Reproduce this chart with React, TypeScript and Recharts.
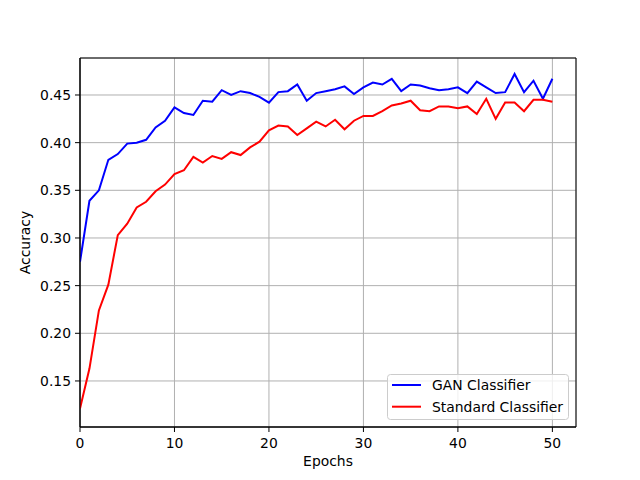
import React from 'react';
import {
    LineChart,
    Line,
    XAxis,
    YAxis,
    CartesianGrid,
    Legend,
    ReferenceArea,
    Label,
} from 'recharts';

const epochs = [
    0, 1, 2, 3, 4, 5, 6, 7, 8, 9, 10, 11, 12, 13, 14, 15, 16, 17, 18, 19, 20, 21, 22, 23, 24, 25,
    26, 27, 28, 29, 30, 31, 32, 33, 34, 35, 36, 37, 38, 39, 40, 41, 42, 43, 44, 45, 46, 47, 48, 49, 50,
];

const ganAcc = [
    0.275, 0.339, 0.35, 0.382, 0.388, 0.399, 0.4, 0.403, 0.416, 0.423, 0.437, 0.431, 0.429, 0.444,
    0.443, 0.455, 0.45, 0.454, 0.452, 0.448, 0.442, 0.453, 0.454, 0.461, 0.444, 0.452, 0.454, 0.456,
    0.459, 0.451, 0.458, 0.463, 0.461, 0.467, 0.454, 0.461, 0.46, 0.457, 0.455, 0.456, 0.458, 0.452,
    0.464, 0.458, 0.452, 0.453, 0.472, 0.453, 0.465, 0.446, 0.467,
];

const stdAcc = [
    0.121, 0.163, 0.224, 0.251, 0.303, 0.315, 0.332, 0.338, 0.349, 0.356, 0.367, 0.371, 0.385, 0.379,
    0.386, 0.383, 0.39, 0.387, 0.395, 0.401, 0.413, 0.418, 0.417, 0.408, 0.415, 0.422, 0.417, 0.424,
    0.414, 0.423, 0.428, 0.428, 0.433, 0.439, 0.441, 0.444, 0.434, 0.433, 0.438, 0.438, 0.436, 0.438,
    0.43, 0.446, 0.425, 0.442, 0.442, 0.433, 0.445, 0.445, 0.443,
];

const xTicks = [0, 10, 20, 30, 40, 50];
const yTicks = [0.15, 0.2, 0.25, 0.3, 0.35, 0.4, 0.45];

const X_DOMAIN: [number, number] = [0, 52.5];
const Y_DOMAIN: [number, number] = [0.1017, 0.4888];

const FONT = '"DejaVu Sans", sans-serif';
const FS = 13.9;

const data = epochs.map((e, i) => ({ epoch: e, gan: ganAcc[i], std: stdAcc[i] }));

// matplotlib-ish legend box, drawn as a small svg
const LegendBox = (props: any) => {
    const items = props.payload || [];
    return (
        <svg width={182} height={46} style={{ display: 'block', fontFamily: FONT }}>
            <rect x={0.5} y={0.5} width={181} height={45} rx={3} fill="#fff" fillOpacity={0.8} stroke="#cccccc" />
            {items.map((it: any, i: number) => {
                const cy = 11 + i * 21.7;
                return (
                    <g key={it.value}>
                        <line x1={5} x2={34} y1={cy} y2={cy} stroke={it.color} strokeWidth={2} />
                        <text x={45} y={cy + 5} fontSize={FS} fill="#000">
                            {it.value}
                        </text>
                    </g>
                );
            })}
        </svg>
    );
};

export default function App() {
    return (
        <div style={{ position: 'absolute', left: 0, top: 0, width: 640, height: 480, background: '#fff' }}>
            <LineChart
                width={640}
                height={480}
                data={data}
                margin={{ top: 58, right: 64, bottom: 0, left: 0 }}
                style={{ fontFamily: FONT }}
            >
                <CartesianGrid stroke="#b0b0b0" strokeWidth={1} />
                <XAxis
                    dataKey="epoch"
                    type="number"
                    domain={X_DOMAIN}
                    ticks={xTicks}
                    allowDataOverflow
                    height={53}
                    tickSize={5}
                    tickMargin={6}
                    stroke="#000"
                    tick={{ fill: '#000', fontSize: FS }}
                >
                    <Label
                        content={() => (
                            <text x={328} y={466} textAnchor="middle" fontSize={FS} fill="#000" fontFamily={FONT}>
                                Epochs
                            </text>
                        )}
                    />
                </XAxis>
                <YAxis
                    type="number"
                    domain={Y_DOMAIN}
                    ticks={yTicks}
                    allowDataOverflow
                    width={80}
                    tickSize={5}
                    tickMargin={4}
                    stroke="#000"
                    tick={{ fill: '#000', fontSize: FS }}
                    tickFormatter={(v: number) => v.toFixed(2)}
                >
                    <Label
                        content={() => (
                            <text
                                x={30}
                                y={242.5}
                                transform="rotate(-90, 30, 242.5)"
                                textAnchor="middle"
                                fontSize={FS}
                                fill="#000"
                                fontFamily={FONT}
                            >
                                Accuracy
                            </text>
                        )}
                    />
                </YAxis>
                <ReferenceArea
                    x1={X_DOMAIN[0]}
                    x2={X_DOMAIN[1]}
                    y1={Y_DOMAIN[0]}
                    y2={Y_DOMAIN[1]}
                    fill="none"
                    stroke="#000"
                    strokeWidth={1}
                />
                <Line
                    type="linear"
                    dataKey="gan"
                    name="GAN Classifier"
                    stroke="#0000ff"
                    strokeWidth={2}
                    dot={false}
                    isAnimationActive={false}
                />
                <Line
                    type="linear"
                    dataKey="std"
                    name="Standard Classifier"
                    stroke="#ff0000"
                    strokeWidth={2}
                    dot={false}
                    isAnimationActive={false}
                />
                <Legend
                    layout="vertical"
                    align="center"
                    verticalAlign="middle"
                    content={<LegendBox />}
                    wrapperStyle={{ position: 'absolute', left: 387, top: 374, width: 182, height: 46 }}
                />
            </LineChart>
        </div>
    );
}
